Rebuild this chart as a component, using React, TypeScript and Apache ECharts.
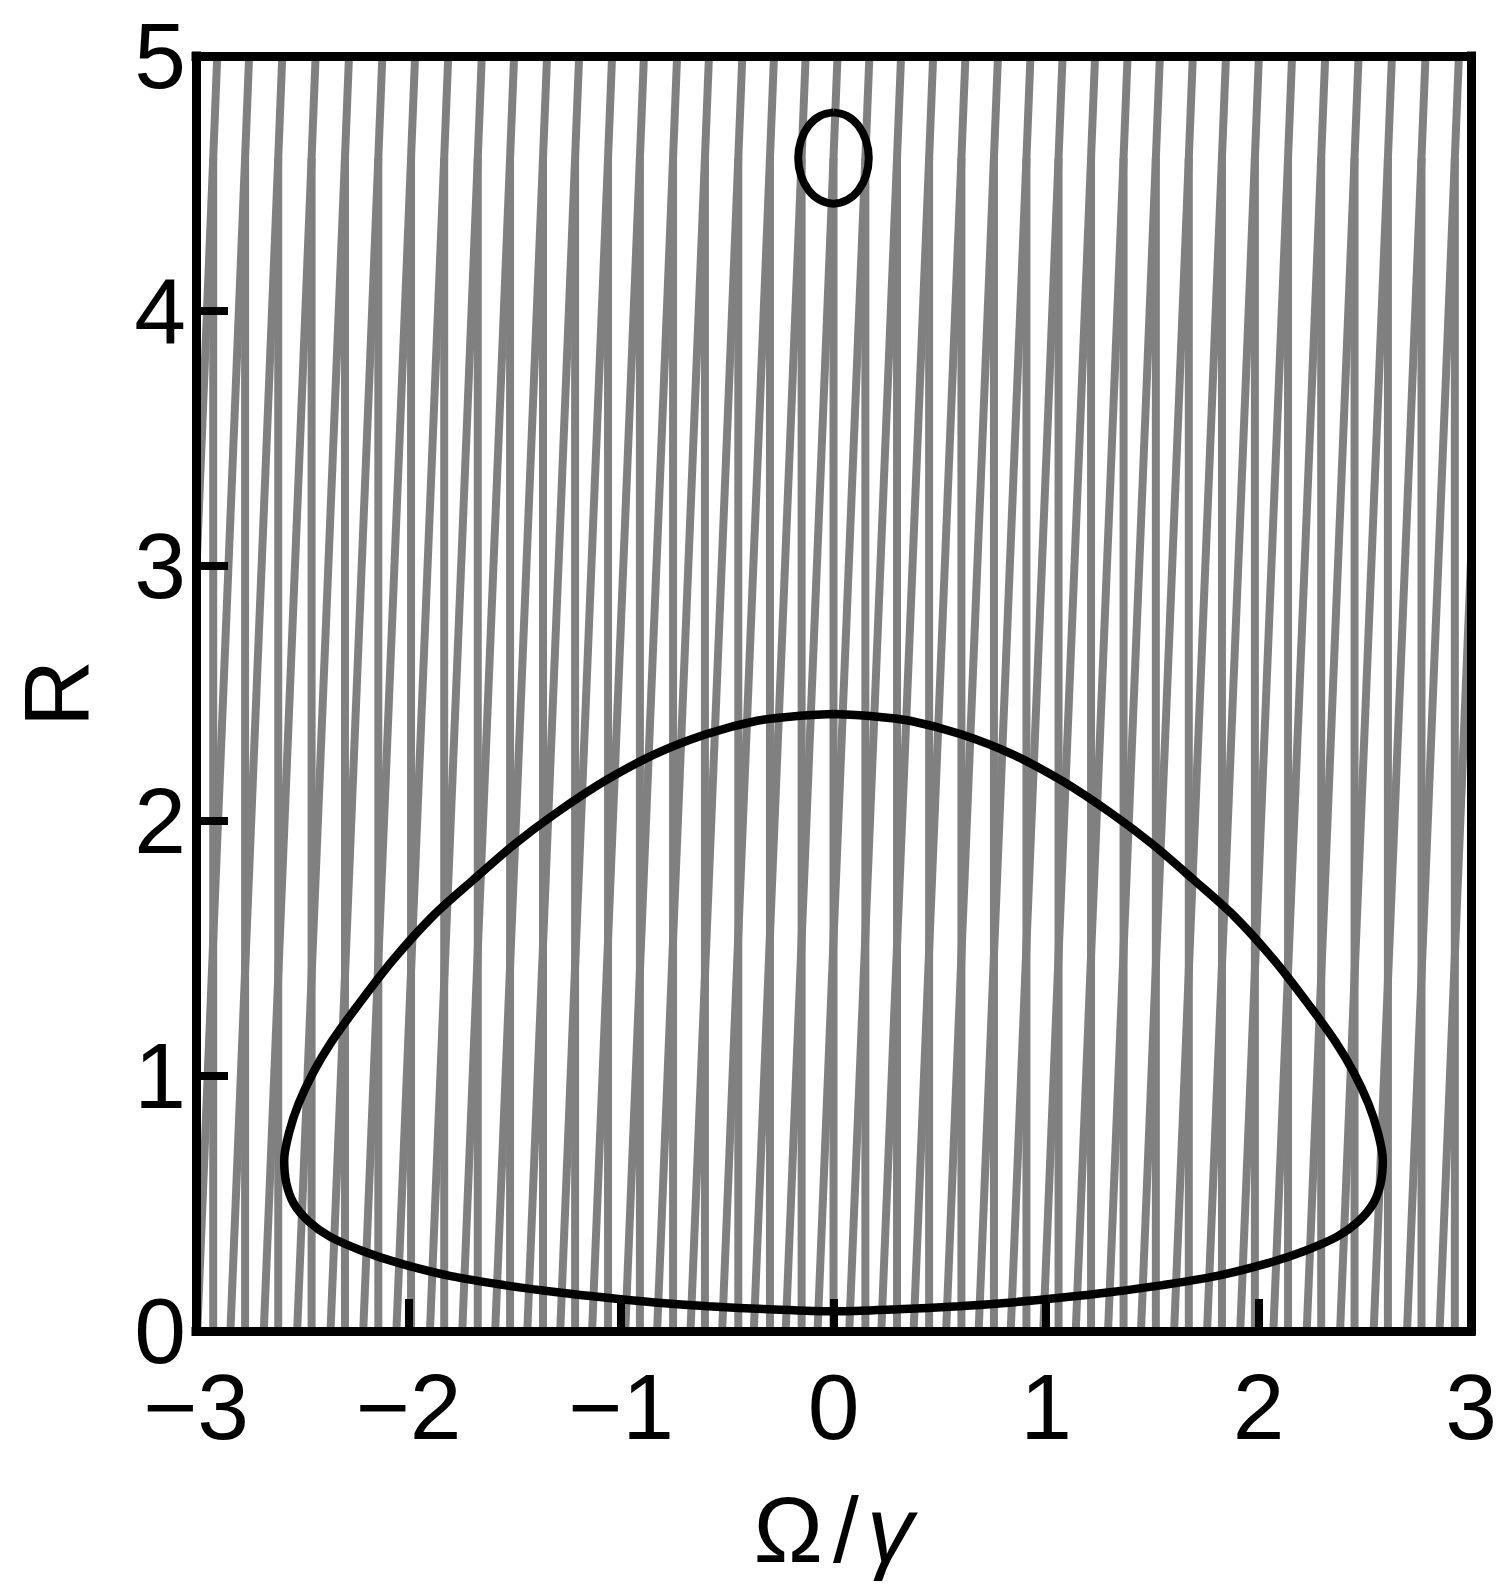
import React, { useEffect, useRef } from "react";
import * as echarts from "echarts";

// ---- data ----
const xTickValues = [-3, -2, -1, 0, 1, 2, 3];
const xTickLabels = ["−3", "−2", "−1", "0", "1", "2", "3"];
const yTickValues = [0, 1, 2, 3, 4, 5];
const yTickLabels = ["0", "1", "2", "3", "4", "5"];

// positions (Ω/γ) of the near-vertical gray lines
const grayLineOmega = [
  -2.919, -2.769, -2.613, -2.456, -2.299, -2.142, -1.988, -1.832, -1.674, -1.522,
  -1.367, -1.216, -1.061, -0.911, -0.755, -0.605, -0.448, -0.299, -0.15, 0.0,
  0.15, 0.299, 0.45, 0.602, 0.755, 0.908, 1.059, 1.212, 1.365, 1.517, 1.672,
  1.828, 1.983, 2.139, 2.295, 2.452, 2.609, 2.767, 2.924,
];
// an extra slanted line that enters from beyond the right edge
const extraSlantOmega = [3.077];
const slantBreakR = 4.6; // R where the slanted lines meet the vertical ones
const slantShiftAtBottom = -0.225; // Ω shift of slanted line at R = 0
const slantShiftAtTop = 0.019; // Ω shift of slanted line at R = 5

// big closed black curve (starts at its top, runs down the left side)
const curveOmega = [
  0.0, -0.17, -0.36, -0.6, -0.84, -1.08, -1.316, -1.507, -1.697, -1.888, -2.078,
  -2.245, -2.364, -2.449, -2.516, -2.562, -2.585, -2.575, -2.54, -2.47, -2.37,
  -2.22, -2.04, -1.8, -1.55, -1.3, -1.065, -0.84, -0.59, -0.3, 0.0, 0.3, 0.59,
  0.84, 1.065, 1.3, 1.55, 1.8, 2.04, 2.22, 2.37, 2.47, 2.54, 2.575, 2.585, 2.562,
  2.516, 2.449, 2.364, 2.245, 2.078, 1.888, 1.697, 1.507, 1.316, 1.08, 0.84, 0.6,
  0.36, 0.17, 0.0,
];
const curveR = [
  2.42, 2.412, 2.393, 2.34, 2.262, 2.155, 2.025, 1.905, 1.768, 1.625, 1.45, 1.27,
  1.132, 1.013, 0.894, 0.778, 0.67, 0.58, 0.5, 0.43, 0.37, 0.315, 0.265, 0.215,
  0.18, 0.152, 0.13, 0.112, 0.097, 0.085, 0.077, 0.085, 0.097, 0.112, 0.13, 0.152,
  0.18, 0.215, 0.265, 0.315, 0.37, 0.43, 0.5, 0.58, 0.67, 0.778, 0.894, 1.013,
  1.132, 1.27, 1.45, 1.625, 1.768, 1.905, 2.025, 2.155, 2.262, 2.34, 2.393, 2.412,
  2.42,
];

// small closed loop near the top
const loopOmega = [
  0.0, 0.064, 0.117, 0.153, 0.166, 0.153, 0.117, 0.064, 0.0, -0.064, -0.117,
  -0.153, -0.166, -0.153, -0.117, -0.064, 0.0,
];
const loopR = [
  4.779, 4.765, 4.727, 4.669, 4.6, 4.531, 4.473, 4.435, 4.421, 4.435, 4.473,
  4.531, 4.6, 4.669, 4.727, 4.765, 4.779,
];

const FONT = "'Liberation Sans', Arial, Helvetica, sans-serif";

export default function App() {
  const ref = useRef<HTMLDivElement | null>(null);

  useEffect(() => {
    if (!ref.current) return;
    const chart = echarts.init(ref.current, undefined, { renderer: "svg" });

    const grayLines: any[] = [];
    grayLineOmega.forEach((x) => {
      grayLines.push({ coords: [[x, 0], [x, slantBreakR]] });
    });
    grayLineOmega.concat(extraSlantOmega).forEach((x) => {
      grayLines.push({
        coords: [
          [x + slantShiftAtBottom, 0],
          [x, slantBreakR],
          [x + slantShiftAtTop, 5],
        ],
      });
    });

    const curveData = curveOmega.map((x, i) => [x, curveR[i]]);
    const loopData = loopOmega.map((x, i) => [x, loopR[i]]);

    const frameLine = { color: "#000", width: 9, cap: "square" as const };
    const xFmt = (v: number) => {
      const i = xTickValues.indexOf(Math.round(v));
      return i >= 0 ? xTickLabels[i] : "";
    };
    const yFmt = (v: number) => {
      const i = yTickValues.indexOf(Math.round(v));
      return i >= 0 ? yTickLabels[i] : "";
    };

    const option: any = {
      animation: false,
      backgroundColor: "#fff",
      grid: { left: 196, top: 56, width: 1275, height: 1275, containLabel: false },
      xAxis: [
        {
          type: "value",
          min: -3,
          max: 3,
          interval: 1,
          position: "bottom",
          z: 5,
          axisLine: { show: true, onZero: false, lineStyle: frameLine },
          axisTick: { show: true, inside: true, length: 32, lineStyle: { color: "#000", width: 8 } },
          axisLabel: {
            formatter: xFmt,
            fontSize: 93,
            lineHeight: 66,
            fontFamily: FONT,
            color: "#000",
            margin: 43,
            showMinLabel: true,
            showMaxLabel: true,
          },
          splitLine: { show: false },
          name: "{o|Ω}{s|/}{i|γ}",
          nameLocation: "middle",
          nameGap: 152,
          nameTextStyle: {
            fontSize: 93,
            lineHeight: 93,
            fontFamily: FONT,
            color: "#000",
            rich: {
              o: { fontSize: 93, lineHeight: 93, fontFamily: FONT, color: "#000" },
              s: { fontSize: 93, lineHeight: 93, fontFamily: FONT, color: "#000", padding: [0, 8, 0, 10] },
              i: { fontSize: 93, lineHeight: 93, fontFamily: FONT, fontStyle: "italic", color: "#000" },
            },
          },
        },
        {
          type: "value",
          min: -3,
          max: 3,
          interval: 1,
          position: "top",
          z: 5,
          axisLine: { show: true, onZero: false, lineStyle: frameLine },
          axisTick: { show: false },
          axisLabel: { show: false },
          splitLine: { show: false },
        },
      ],
      yAxis: [
        {
          type: "value",
          min: 0,
          max: 5,
          interval: 1,
          position: "left",
          z: 5,
          axisLine: { show: true, onZero: false, lineStyle: frameLine },
          axisTick: { show: true, inside: true, length: 32, lineStyle: { color: "#000", width: 8 } },
          axisLabel: {
            formatter: yFmt,
            fontSize: 93,
            lineHeight: 66,
            fontFamily: FONT,
            color: "#000",
            margin: 10,
            showMinLabel: true,
            showMaxLabel: true,
          },
          splitLine: { show: false },
          name: "R",
          nameLocation: "middle",
          nameGap: 93,
          nameTextStyle: { fontSize: 93, lineHeight: 93, fontFamily: FONT, color: "#000" },
        },
        {
          type: "value",
          min: 0,
          max: 5,
          interval: 1,
          position: "right",
          z: 5,
          axisLine: { show: true, onZero: false, lineStyle: frameLine },
          axisTick: { show: false },
          axisLabel: { show: false },
          splitLine: { show: false },
        },
      ],
      series: [
        {
          type: "lines",
          coordinateSystem: "cartesian2d",
          xAxisIndex: 0,
          yAxisIndex: 0,
          polyline: true,
          clip: true,
          silent: true,
          z: 1,
          lineStyle: { color: "#808080", width: 8, opacity: 1 },
          data: grayLines,
        },
        {
          type: "line",
          xAxisIndex: 0,
          yAxisIndex: 0,
          data: curveData,
          smooth: 0.3,
          showSymbol: false,
          symbol: "none",
          clip: true,
          z: 3,
          lineStyle: { color: "#000", width: 8.5 },
        },
        {
          type: "line",
          xAxisIndex: 0,
          yAxisIndex: 0,
          data: loopData,
          smooth: 0.4,
          showSymbol: false,
          symbol: "none",
          clip: true,
          z: 3,
          lineStyle: { color: "#000", width: 8 },
        },
      ],
    };

    chart.setOption(option);
    return () => chart.dispose();
  }, []);

  return (
    <div
      ref={ref}
      style={{ position: "absolute", left: 0, top: 0, width: 1500, height: 1587, background: "#fff" }}
    />
  );
}
